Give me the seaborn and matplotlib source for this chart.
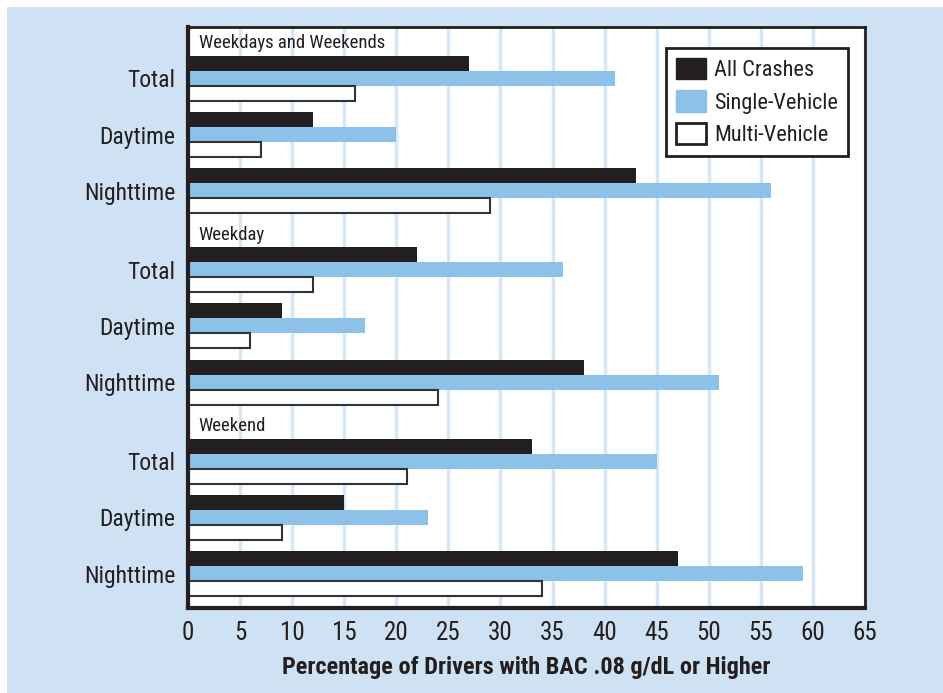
import pandas as pd
import matplotlib.pyplot as plt
import seaborn as sns
from matplotlib.patches import Rectangle, Patch

# data
groups = ['Weekdays and Weekends', 'Weekday', 'Weekend']
periods = ['Total', 'Daytime', 'Nighttime']
crash_types = ['All Crashes', 'Single-Vehicle', 'Multi-Vehicle']

all_crashes = [27, 12, 43, 22, 9, 38, 33, 15, 47]
single_vehicle = [41, 20, 56, 36, 17, 51, 45, 23, 59]
multi_vehicle = [16, 7, 29, 12, 6, 24, 21, 9, 34]

x_ticks = list(range(0, 70, 5))

colors = ['#231f20', '#8cc1e9', '#ffffff']
bg_color = '#cfe2f3'
grid_color = '#d6e7f7'
text_color = '#231f20'

sns.set_style('white')
plt.rcParams['font.family'] = ['Roboto Condensed', 'DejaVu Sans']

# row positions: 3 rows per group, extra space for group headers
group_step = 3.4
values = {'All Crashes': all_crashes, 'Single-Vehicle': single_vehicle, 'Multi-Vehicle': multi_vehicle}
positions = []
for g in range(len(groups)):
    for r in range(len(periods)):
        positions.append(g * group_step + r)
rows = []
for ct in crash_types:
    for pos, v in zip(positions, values[ct]):
        rows.append({'pos': pos, 'value': v, 'type': ct})
df = pd.DataFrame(rows)

fig = plt.figure(figsize=(9.43, 6.93), dpi=100)
fig.patch.set_facecolor('white')
fig.patches.append(Rectangle((7 / 943, 0), 1, 1 - 7 / 693, transform=fig.transFigure,
                             facecolor=bg_color, edgecolor='none', zorder=-10))
ax = fig.add_axes([188 / 943, 1 - 608 / 693, 677 / 943, 581 / 693])
ax.set_facecolor('white')

sns.barplot(data=df, x='value', y='pos', hue='type', hue_order=crash_types,
            palette=colors, orient='y', native_scale=True, width=0.8,
            linewidth=0, saturation=1, legend=False, ax=ax)

# outline on the white bars
for bar in ax.containers[2]:
    bar.set_edgecolor('#333333')
    bar.set_linewidth(1.5)

ax.set_xlim(0, 65)
ax.set_ylim(2 * group_step + 2 + 0.61, -0.91)
ax.set_xticks(x_ticks)
ax.set_xticklabels([str(t) for t in x_ticks], fontsize=18)
ax.set_yticks(positions)
ax.set_yticklabels(periods * len(groups), fontsize=17)
ax.tick_params(axis='both', length=0, pad=9, colors=text_color)
ax.set_xlabel('Percentage of Drivers with BAC .08 g/dL or Higher', fontsize=17.5,
              fontweight='bold', color=text_color, labelpad=8)
ax.set_ylabel('')

ax.xaxis.grid(True, color=grid_color, linewidth=2.5)
ax.yaxis.grid(False)
ax.set_axisbelow(True)
for s in ax.spines.values():
    s.set_visible(True)
    s.set_color(text_color)
    s.set_linewidth(2)
ax.spines['left'].set_linewidth(3)
ax.spines['bottom'].set_linewidth(3)

# group headers
for g, name in enumerate(groups):
    ax.text(0.016, g * group_step - 0.62, name, transform=ax.get_yaxis_transform(),
            fontsize=13.5, va='center', ha='left', color=text_color)

handles = [Patch(facecolor=colors[0], edgecolor=colors[0]),
           Patch(facecolor=colors[1], edgecolor=colors[1]),
           Patch(facecolor=colors[2], edgecolor=text_color, linewidth=2)]
leg = ax.legend(handles, crash_types, loc='upper right', bbox_to_anchor=(0.975, 0.964),
                borderaxespad=0, fontsize=16, frameon=True, fancybox=False, framealpha=1,
                edgecolor=text_color, handlelength=1.35, handleheight=1.1,
                handletextpad=0.35, borderpad=0.45, labelspacing=0.42)
leg.get_frame().set_linewidth(2)
for t in leg.get_texts():
    t.set_color(text_color)

fig.savefig('out.png', dpi=100, facecolor=fig.get_facecolor())
